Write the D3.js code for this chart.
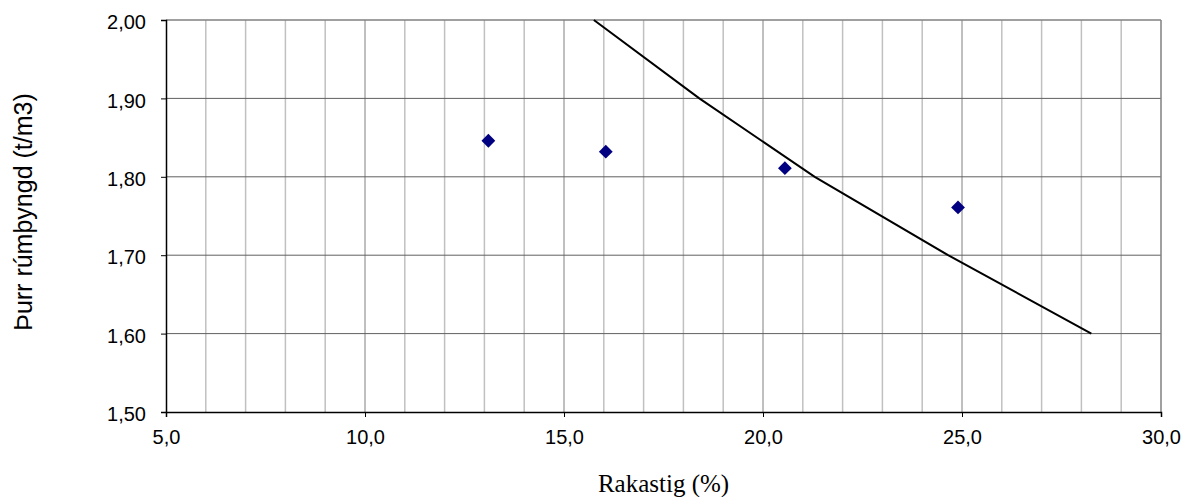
<!DOCTYPE html>
<html>
<head>
<meta charset="utf-8">
<script src="https://cdn.jsdelivr.net/npm/d3@7"></script>
<style>
  body { margin: 0; background: #fff; }
  svg { display: block; }
</style>
</head>
<body>
<svg width="1185" height="497"></svg>
<script>
// measured points (rakastig %, þurr rúmþyngd t/m3)
const pointX = [13.1, 16.05, 20.55, 24.9];
const pointY = [1.846, 1.832, 1.811, 1.761];

// saturation line
const curveX = [15.75, 18.4, 21.3, 24.65, 28.25];
const curveY = [2.0, 1.9, 1.8, 1.7, 1.6];

const xTicks = [5, 10, 15, 20, 25, 30];
const yTicks = [1.5, 1.6, 1.7, 1.8, 1.9, 2.0];

const svg = d3.select('svg');
const plotL = 166, plotR = 1161, plotT = 20, plotB = 412;

const x = d3.scaleLinear().domain([5, 30]).range([plotL, plotR]);
const y = d3.scaleLinear().domain([1.5, 2.0]).range([plotB, plotT]);

const fmtX = d => d.toFixed(1).replace('.', ',');
const fmtY = d => d.toFixed(2).replace('.', ',');

// minor vertical grid (every 1)
const minor = d3.range(6, 30).filter(d => d % 5 !== 0);
svg.append('g')
  .selectAll('line')
  .data(minor)
  .enter()
  .append('line')
  .attr('x1', d => x(d)).attr('x2', d => x(d))
  .attr('y1', plotT).attr('y2', plotB)
  .attr('stroke', '#c0c0c0')
  .attr('stroke-width', 1.5);

// major vertical grid
svg.append('g')
  .selectAll('line')
  .data([10, 15, 20, 25])
  .enter()
  .append('line')
  .attr('x1', d => x(d)).attr('x2', d => x(d))
  .attr('y1', plotT).attr('y2', plotB)
  .attr('stroke', '#808080')
  .attr('stroke-width', 1);

// horizontal grid
svg.append('g')
  .selectAll('line')
  .data([1.6, 1.7, 1.8, 1.9])
  .enter()
  .append('line')
  .attr('x1', plotL).attr('x2', plotR)
  .attr('y1', d => y(d)).attr('y2', d => y(d))
  .attr('stroke', '#606060')
  .attr('stroke-width', 1);

// top and right frame
svg.append('line')
  .attr('x1', plotL).attr('x2', plotR).attr('y1', plotT).attr('y2', plotT)
  .attr('stroke', '#808080').attr('stroke-width', 1.5);
svg.append('line')
  .attr('x1', plotR).attr('x2', plotR).attr('y1', plotT).attr('y2', plotB)
  .attr('stroke', '#808080').attr('stroke-width', 1.5);

// axes
const xAxis = svg.append('g')
  .attr('transform', `translate(0,${plotB})`)
  .call(d3.axisBottom(x).tickValues(xTicks).tickFormat(fmtX).tickSize(5));
const yAxis = svg.append('g')
  .attr('transform', `translate(${plotL},0)`)
  .call(d3.axisLeft(y).tickValues(yTicks).tickFormat(fmtY).tickSize(5).tickPadding(15));

[xAxis, yAxis].forEach(a => {
  a.select('.domain').attr('stroke', '#000').attr('stroke-width', 1.5);
  a.selectAll('.tick line').attr('stroke', '#000');
  a.selectAll('.tick text')
    .attr('fill', '#000')
    .style('font-family', 'Liberation Sans, Arial, sans-serif')
    .style('font-size', '20px');
});
yAxis.selectAll('.tick text').attr('dy', '0.43em');
xAxis.selectAll('.tick text').attr('y', 32).attr('dy', 0);

// saturation curve
const line = d3.line().x(d => x(d[0])).y(d => y(d[1]));
svg.append('path')
  .datum(curveX.map((v, i) => [v, curveY[i]]))
  .attr('d', line)
  .attr('fill', 'none')
  .attr('stroke', '#000')
  .attr('stroke-width', 2);

// diamonds
svg.append('g')
  .selectAll('path')
  .data(pointX.map((v, i) => [v, pointY[i]]))
  .enter()
  .append('path')
  .attr('d', d3.symbol().type(d3.symbolSquare).size(95))
  .attr('transform', d => `translate(${x(d[0])},${y(d[1])}) rotate(45)`)
  .attr('fill', '#000080');

// axis titles
svg.append('text')
  .attr('x', (plotL + plotR) / 2)
  .attr('y', 492)
  .attr('text-anchor', 'middle')
  .style('font-family', 'Liberation Serif, Times New Roman, serif')
  .style('font-size', '25px')
  .text('Rakastig (%)');

svg.append('text')
  .attr('transform', `translate(32,212) rotate(-90)`)
  .attr('text-anchor', 'middle')
  .style('font-family', 'Liberation Sans, Arial, sans-serif')
  .style('font-size', '25px')
  .text('Þurr rúmþyngd (t/m3)');
</script>
</body>
</html>
